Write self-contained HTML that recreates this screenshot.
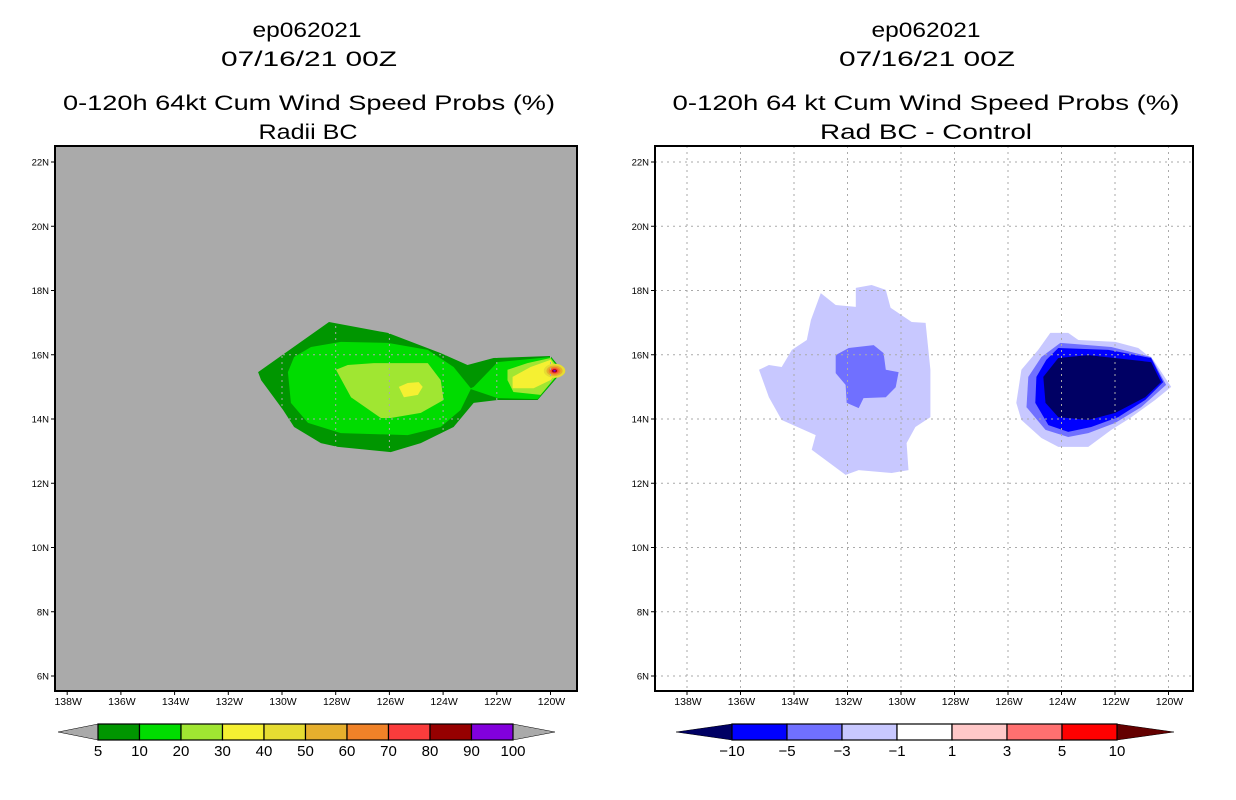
<!DOCTYPE html>
<html><head><meta charset="utf-8"><style>
body{margin:0;background:#fff;}
svg{display:block;font-family:"Liberation Sans",sans-serif;}
</style></head><body>
<svg id="s" width="1236" height="800" xmlns="http://www.w3.org/2000/svg">
<g font-size="21" text-anchor="middle" fill="#000" lengthAdjust="spacingAndGlyphs">
<text x="307" y="37" textLength="109" lengthAdjust="spacingAndGlyphs">ep062021</text>
<text x="309" y="66" textLength="176" lengthAdjust="spacingAndGlyphs">07/16/21 00Z</text>
<text x="309" y="110" textLength="492" lengthAdjust="spacingAndGlyphs">0-120h 64kt Cum Wind Speed Probs (%)</text>
<text x="308" y="139" textLength="99" lengthAdjust="spacingAndGlyphs">Radii BC</text>
<text x="926" y="37" textLength="109" lengthAdjust="spacingAndGlyphs">ep062021</text>
<text x="927" y="66" textLength="176" lengthAdjust="spacingAndGlyphs">07/16/21 00Z</text>
<text x="926" y="110" textLength="507" lengthAdjust="spacingAndGlyphs">0-120h 64 kt Cum Wind Speed Probs (%)</text>
<text x="926" y="139" textLength="212" lengthAdjust="spacingAndGlyphs">Rad BC - Control</text>
</g>
<g id="L"></g>
<g id="R"></g>
<g id="CB"></g>
</svg>
<script>
// ---- data ----
const lonTicks=[138,136,134,132,130,128,126,124,122,120];
const latTicks=[22,20,18,16,14,12,10,8,6];
const probLevels=["5","10","20","30","40","50","60","70","80","90","100"];
const probColors=["#009600","#00dc00","#a0e632","#f5f032","#e6dc32","#e6af2d","#f08228","#fa3c3c","#960000","#8200dc"];
const diffLevels=["-10","-5","-3","-1","1","3","5","10"];
const diffColors=["#000064","#0000ff","#7070ff","#c8c8ff","#ffffff","#ffc8c8","#ff7070","#ff0000","#640000"];
// left contours [lonW, lat]
const p5=[[130.89,15.46],[128.25,17.02],[126.06,16.68],[124.09,16.05],[123.09,15.68],[122.12,15.90],[120.0,15.96],[119.55,15.49],[120.48,14.59],[121.97,14.59],[122.86,14.50],[123.61,13.75],[124.83,13.25],[125.95,12.97],[127.92,13.13],[128.55,13.25],[129.55,13.75],[129.96,14.28],[130.78,15.21]];
const p10=[[129.78,15.46],[129.55,15.93],[128.92,16.24],[127.81,16.40],[126.06,16.37],[124.57,16.15],[123.61,15.62],[122.97,14.96],[122.86,15.0],[121.97,15.77],[120.0,15.93],[119.59,15.49],[120.48,14.62],[121.97,14.65],[122.97,14.93],[123.35,14.28],[124.09,13.75],[125.32,13.50],[127.81,13.56],[129.03,13.88],[129.67,14.50]];
const p20a=[[127.99,15.53],[127.55,15.68],[126.58,15.74],[124.57,15.74],[124.09,15.21],[123.98,14.59],[124.83,14.19],[125.95,14.03],[126.32,14.03],[127.43,14.68]];
const p20b=[[121.60,15.53],[120.86,15.74],[120.0,15.90],[119.63,15.49],[120.37,14.75],[121.38,14.84],[121.60,15.21]];
const p30a=[[125.65,15.0],[125.32,15.12],[124.91,15.15],[124.76,15.0],[124.94,14.75],[125.46,14.68]];
const p30b=[[121.41,15.31],[120.74,15.62],[120.0,15.84],[119.74,15.49],[120.0,15.21],[120.63,14.96],[121.41,14.96]];
const peakLon=119.85, peakLat=15.5;
const peakRadii=[0.4,0.3,0.22,0.15,0.09,0.05]; // deg, levels 40..90
// right contours
const dL1=[[133.0,17.92],[132.44,17.55],[131.69,17.49],[131.69,18.08],[131.10,18.17],[130.57,18.02],[130.39,17.46],[129.60,17.02],[129.08,16.99],[128.90,15.53],[128.90,14.06],[129.46,13.75],[129.79,13.25],[129.72,12.41],[130.35,12.32],[131.58,12.41],[132.07,12.26],[133.34,13.04],[133.19,13.50],[134.46,13.97],[134.94,14.68],[135.31,15.53],[134.94,15.68],[134.46,15.62],[134.08,16.15],[133.52,16.46],[133.37,17.08]];
const dL2=[[132.44,15.99],[131.96,16.21],[131.02,16.30],[130.65,16.05],[130.57,15.53],[130.09,15.46],[130.20,14.99],[130.57,14.68],[131.40,14.65],[131.58,14.34],[132.03,14.50],[132.07,15.06],[132.44,15.43]];
const dR1=[[124.42,16.68],[123.75,16.68],[123.37,16.46],[121.99,16.40],[121.13,16.21],[120.57,15.84],[119.90,15.0],[120.50,14.59],[121.43,14.03],[122.14,13.66],[123.0,13.13],[124.12,13.13],[124.75,13.41],[125.50,13.97],[125.69,14.50],[125.50,15.53],[124.87,16.15]];
const dR2=[[124.04,16.37],[122.14,16.24],[120.65,15.93],[120.09,15.06],[121.02,14.37],[121.99,13.88],[123.0,13.56],[123.75,13.44],[124.60,13.66],[125.31,14.37],[125.24,15.31],[124.75,15.93]];
const dR3=[[124.12,16.21],[122.25,16.15],[120.65,15.90],[120.20,15.15],[120.87,14.59],[121.88,14.06],[122.89,13.75],[123.75,13.60],[124.49,13.81],[124.98,14.50],[124.94,15.31],[124.57,15.84]];
const dR4=[[124.12,15.90],[123.0,15.99],[120.65,15.77],[120.28,15.15],[120.87,14.68],[121.99,14.19],[123.0,13.97],[124.12,14.06],[124.60,14.50],[124.68,15.31]];

const NS="http://www.w3.org/2000/svg";
function mk(p,t,a){const e=document.createElementNS(NS,t);for(const k in a)e.setAttribute(k,a[k]);p.appendChild(e);return e;}
const yLat=lat=>162+(22-lat)*32.125;
const xL=w=>282+(130-w)*26.85;
const xR=w=>687+(138-w)*26.75;

function panel(g,x0,x1,bg,xf,name){
  const r=mk(g,'rect',{x:x0,y:146,width:x1-x0,height:545,fill:bg});
  
  
}
function poly(g,pts,xf,col,name){
  const e=mk(g,'polygon',{points:pts.map(p=>xf(p[0]).toFixed(1)+','+yLat(p[1]).toFixed(1)).join(' '),fill:col});
  
  
}
function grid(g,x0,x1,xf,name){
  lonTicks.forEach(w=>{const x=xf(w);
    const l=mk(g,'line',{x1:x,y1:146,x2:x,y2:691,stroke:'#aaa','stroke-dasharray':'2,4'});
    
    
    mk(g,'line',{x1:x,y1:691,x2:x,y2:695,stroke:'#000'});
    const t=mk(g,'text',{x:x+1,y:705,'font-size':10.5,'text-anchor':'middle'});t.textContent=w+'W';
    
    
  });
  latTicks.forEach(lat=>{const y=yLat(lat);
    const l=mk(g,'line',{x1:x0,y1:y,x2:x1,y2:y,stroke:'#aaa','stroke-dasharray':'2,4'});
    
    
    mk(g,'line',{x1:x0-4,y1:y,x2:x0,y2:y,stroke:'#000'});
    const t=mk(g,'text',{x:x0-6,y:y+3.5,'font-size':9.5,'text-anchor':'end'});t.textContent=lat+'N';
    
    
  });
  const b=mk(g,'rect',{x:x0,y:146,width:x1-x0,height:545,fill:'none',stroke:'#000','stroke-width':2});
  
  
}
const L=document.getElementById('L'),R=document.getElementById('R');
panel(L,55,577,'#aaaaaa',xL,'left');
poly(L,p5,xL,probColors[0],'prob-5-contour');
poly(L,p10,xL,probColors[1],'prob-10-contour');
poly(L,p20a,xL,probColors[2],'prob-20-contour');
poly(L,p20b,xL,probColors[2],'prob-20-contour-east');
poly(L,p30a,xL,probColors[3],'prob-30-contour');
poly(L,p30b,xL,probColors[3],'prob-30-contour-east');
peakRadii.forEach((r,i)=>{
  const e=mk(L,'ellipse',{cx:xL(peakLon),cy:yLat(peakLat),rx:r*26.85,ry:r*32.125*0.55,fill:probColors[4+i]});
  
  
});
grid(L,55,577,xL,'left');
panel(R,655,1193,'#ffffff',xR,'right');
poly(R,dL1,xR,diffColors[3],'diff-minus1-west');
poly(R,dL2,xR,diffColors[2],'diff-minus3-west');
poly(R,dR1,xR,diffColors[3],'diff-minus1-east');
poly(R,dR2,xR,diffColors[2],'diff-minus3-east');
poly(R,dR3,xR,diffColors[1],'diff-minus5-east');
poly(R,dR4,xR,diffColors[0],'diff-minus10-east');
grid(R,655,1193,xR,'right');

// colorbars
const CB=document.getElementById('CB');
function cbar(x0,x1,tipL,tipR,labs,inner,tipColL,tipColR,name){
  const n=inner.length, w=(x1-x0)/n, y0=724,y1=740,ym=732;
  const a=mk(CB,'polygon',{points:`${tipL},${ym} ${x0},${y0} ${x0},${y1}`,fill:tipColL,stroke:'#000','stroke-width':0.5});
  
  
  const b=mk(CB,'polygon',{points:`${tipR},${ym} ${x1},${y0} ${x1},${y1}`,fill:tipColR,stroke:'#000','stroke-width':0.5});
  
  
  inner.forEach((c,i)=>{
    const r=mk(CB,'rect',{x:x0+i*w,y:y0,width:w,height:y1-y0,fill:c,stroke:'#000','stroke-width':1.2});
    
    
  });
  labs.forEach((s,i)=>{
    const t=mk(CB,'text',{x:x0+i*w,y:756,'font-size':15,'text-anchor':'middle'});t.textContent=s.replace('-','\u2212');
    
    
  });
}
cbar(98,513,58,555,probLevels,probColors,'#aaaaaa','#aaaaaa','prob-colorbar');
cbar(732,1117,676,1174,diffLevels,diffColors.slice(1,8),diffColors[0],diffColors[8],'diff-colorbar');
</script>
</body></html>
